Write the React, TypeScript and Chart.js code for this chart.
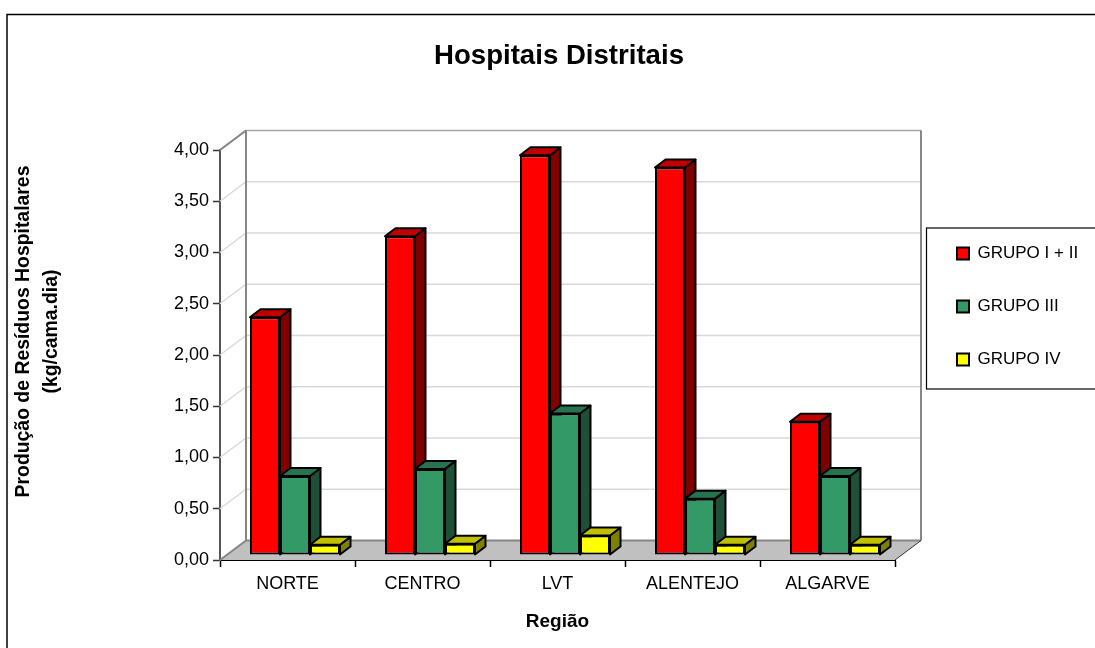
import React, { useEffect, useRef } from "react";
import { Chart, registerables } from "chart.js";

Chart.register(...registerables);

const FONT = '"Liberation Sans", Arial, sans-serif';

const categories = ["NORTE", "CENTRO", "LVT", "ALENTEJO", "ALGARVE"];
const grupo12 = [2.32, 3.11, 3.9, 3.78, 1.3];
const grupo3 = [0.77, 0.84, 1.38, 0.55, 0.77];
const grupo4 = [0.1, 0.11, 0.19, 0.1, 0.1];
const yTickLabels = ["0,00", "0,50", "1,00", "1,50", "2,00", "2,50", "3,00", "3,50", "4,00"];
const yTitleLines = ["Produção de Resíduos Hospitalares", "(kg/cama.dia)"];

const WALL = { dx: 26, dy: -19.5 };
const BAR_SHIFT = { dx: 7.5, dy: -5 };
const BAR_DEPTH = { dx: 10.5, dy: -8 };

const faces: Record<number, { side: string; top: string }> = {
  0: { side: "#800000", top: "#C00000" },
  1: { side: "#1F4F37", top: "#277350" },
  2: { side: "#808000", top: "#C0C000" },
};

function drawWalls(chart: any) {
  const { ctx, chartArea: a, scales } = chart;
  const y = scales.y;
  ctx.save();
  ctx.fillStyle = "#C0C0C0";
  ctx.beginPath();
  ctx.moveTo(a.left, a.bottom);
  ctx.lineTo(a.right, a.bottom);
  ctx.lineTo(a.right + WALL.dx, a.bottom + WALL.dy);
  ctx.lineTo(a.left + WALL.dx, a.bottom + WALL.dy);
  ctx.closePath();
  ctx.fill();
  y.ticks.forEach((t: any) => {
    const p = y.getPixelForValue(t.value);
    if (t.value === 0) return;
    const isTop = t.value === 4;
    ctx.strokeStyle = isTop ? "#A6A6A6" : "#D9D9D9";
    ctx.lineWidth = 1.5;
    ctx.beginPath();
    ctx.moveTo(a.left, p);
    ctx.lineTo(a.left + WALL.dx, p + WALL.dy);
    ctx.lineTo(a.right + WALL.dx, p + WALL.dy);
    ctx.stroke();
  });
  ctx.strokeStyle = "#868686";
  ctx.lineWidth = 2;
  ctx.beginPath();
  ctx.moveTo(a.left + WALL.dx, a.top + WALL.dy);
  ctx.lineTo(a.left + WALL.dx, a.bottom + WALL.dy);
  ctx.lineTo(a.right + WALL.dx, a.bottom + WALL.dy);
  ctx.moveTo(a.right + WALL.dx, a.top + WALL.dy);
  ctx.lineTo(a.right + WALL.dx, a.bottom + WALL.dy);
  ctx.moveTo(a.left, a.top);
  ctx.lineTo(a.left + WALL.dx, a.top + WALL.dy);
  ctx.moveTo(a.left, a.bottom);
  ctx.lineTo(a.left + WALL.dx, a.bottom + WALL.dy);
  ctx.stroke();
  ctx.strokeStyle = "#333";
  ctx.lineWidth = 1;
  ctx.beginPath();
  ctx.moveTo(a.right, a.bottom);
  ctx.lineTo(a.right + WALL.dx, a.bottom + WALL.dy);
  ctx.stroke();
  ctx.restore();
}

function drawSeries(chart: any, index: number) {
  const { ctx } = chart;
  const meta = chart.getDatasetMeta(index);
  const f = faces[index];
  ctx.save();
  ctx.translate(BAR_SHIFT.dx, BAR_SHIFT.dy);
  ctx.lineWidth = 2;
  ctx.strokeStyle = "#000";
  ctx.lineJoin = "round";
  const { dx, dy } = BAR_DEPTH;
  meta.data.forEach((b: any) => {
    const l = b.x - b.width / 2;
    const r = b.x + b.width / 2;
    ctx.fillStyle = f.side;
    ctx.beginPath();
    ctx.moveTo(r, b.y);
    ctx.lineTo(r + dx, b.y + dy);
    ctx.lineTo(r + dx, b.base + dy);
    ctx.lineTo(r, b.base);
    ctx.closePath();
    ctx.fill();
    ctx.stroke();
    ctx.fillStyle = f.top;
    ctx.beginPath();
    ctx.moveTo(l, b.y);
    ctx.lineTo(l + dx, b.y + dy);
    ctx.lineTo(r + dx, b.y + dy);
    ctx.lineTo(r, b.y);
    ctx.closePath();
    ctx.fill();
    ctx.stroke();
  });
  meta.controller.draw();
  ctx.restore();
}

const scene = {
  id: "scene",
  beforeDraw(chart: any) {
    const { ctx } = chart;
    ctx.save();
    ctx.strokeStyle = "#000";
    ctx.lineWidth = 1.5;
    ctx.beginPath();
    ctx.moveTo(7, 700);
    ctx.lineTo(7, 14.5);
    ctx.lineTo(1200, 14.5);
    ctx.stroke();
    ctx.lineWidth = 1.2;
    ctx.strokeRect(926.5, 228, 400, 161);
    ctx.restore();
  },
  afterLayout(chart: any) {
    const l = chart.legend;
    if (l) {
      l.left = 921;
      l.right = 1095;
      l.width = 174;
      l.top = 209;
      l.bottom = 500;
      l.height = 291;
    }
    const t = chart.titleBlock;
    if (t) {
      t.left += 1.5;
      t.right += 1.5;
    }
  },
  beforeDatasetsDraw(chart: any) {
    drawWalls(chart);
    chart.data.datasets.forEach((_d: any, i: number) => drawSeries(chart, i));
    return false;
  },
  afterDraw(chart: any) {
    const { ctx } = chart;
    ctx.save();
    ctx.translate(0, 331.5);
    ctx.rotate(-Math.PI / 2);
    ctx.fillStyle = "#000";
    ctx.font = `bold 19.4px ${FONT}`;
    ctx.textAlign = "center";
    ctx.textBaseline = "middle";
    ctx.fillText(yTitleLines[0], 0, 24);
    ctx.fillText(yTitleLines[1], 0, 52);
    ctx.restore();
  },
};

export default function App() {
  const ref = useRef<HTMLCanvasElement>(null);
  useEffect(() => {
    const chart = new Chart(ref.current as HTMLCanvasElement, {
      type: "bar",
      plugins: [scene],
      data: {
        labels: categories,
        datasets: [
          { label: "GRUPO I + II", data: grupo12, backgroundColor: "#FF0000" },
          { label: "GRUPO III", data: grupo3, backgroundColor: "#339966" },
          { label: "GRUPO IV", data: grupo4, backgroundColor: "#FFFF00" },
        ].map((d) => ({
          ...d,
          borderColor: "#000",
          borderWidth: 2,
          borderSkipped: false,
          barPercentage: 1,
          categoryPercentage: 90 / 135,
        })),
      },
      options: {
        responsive: false,
        animation: false,
        devicePixelRatio: 1,
        layout: { padding: { left: 0, right: 200, top: 0, bottom: 0 } },
        plugins: {
          tooltip: { enabled: false },
          title: {
            display: true,
            text: "Hospitais Distritais",
            color: "#000",
            fullSize: false,
            font: { family: FONT, size: 27.6, weight: "bold" },
            padding: { top: 39.9, bottom: 77 },
          },
          legend: {
            position: "chartArea",
            align: "start",
            labels: {
              boxWidth: 12,
              boxHeight: 12,
              padding: 36,
              color: "#000",
              font: { family: FONT, size: 17 },
            },
          },
        },
        scales: {
          x: {
            afterFit: (s: any) => { s.height = 88; },
            grid: { drawOnChartArea: false, tickLength: 7, tickColor: "#000", tickWidth: 1.5 },
            border: { color: "#000", width: 2 },
            ticks: { color: "#000", font: { family: FONT, size: 18 }, maxRotation: 0, padding: 6 },
            title: {
              display: true,
              text: "Região",
              color: "#000",
              font: { family: FONT, size: 19, weight: "bold" },
              padding: { top: 0, bottom: 15 },
            },
          },
          y: {
            min: 0,
            max: 4,
            afterFit: (s: any) => { s.width = 220; },
            grid: { drawOnChartArea: false, tickLength: 7, tickColor: "#333", tickWidth: 1.5 },
            border: { color: "#555", width: 2 },
            ticks: {
              stepSize: 0.5,
              color: "#000",
              font: { family: FONT, size: 18 },
              padding: 4,
              callback: (_v: any, i: number) => yTickLabels[i],
            },
          },
        },
      } as any,
    });
    return () => chart.destroy();
  }, []);
  return (
    <div style={{ position: "fixed", left: 0, top: 0 }}>
      <canvas ref={ref} width={1095} height={648} style={{ display: "block" }} />
    </div>
  );
}
